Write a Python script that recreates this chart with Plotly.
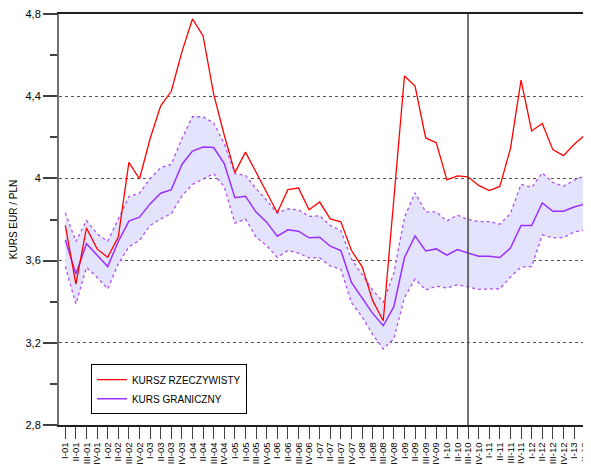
import plotly.graph_objects as go

quarters = []
for yy in range(1, 14):
    for q in ["I", "II", "III", "IV"]:
        quarters.append(f"{q}-{yy:02d}")
quarters = quarters[:50]  # I-01 ... II-13

kurs_rzeczywisty = [3.771, 3.486, 3.759, 3.657, 3.616, 3.714, 4.078, 3.997, 4.193, 4.353,
                    4.424, 4.616, 4.776, 4.693, 4.41, 4.21, 4.028, 4.128, 4.03, 3.93,
                    3.833, 3.945, 3.953, 3.847, 3.885, 3.803, 3.789, 3.649, 3.571, 3.405,
                    3.307, 3.90, 4.498, 4.449, 4.197, 4.174, 3.993, 4.012, 4.008, 3.966,
                    3.941, 3.961, 4.145, 4.478, 4.231, 4.267, 4.140, 4.111, 4.165, 4.21]

kurs_graniczny = [3.701, 3.535, 3.682, 3.624, 3.571, 3.693, 3.792, 3.811, 3.876, 3.928,
                  3.945, 4.068, 4.133, 4.153, 4.150, 4.072, 3.906, 3.913, 3.836, 3.787,
                  3.719, 3.750, 3.743, 3.711, 3.714, 3.670, 3.649, 3.494, 3.418, 3.343,
                  3.283, 3.376, 3.615, 3.720, 3.647, 3.657, 3.626, 3.654, 3.637, 3.621,
                  3.621, 3.615, 3.661, 3.771, 3.771, 3.881, 3.840, 3.840, 3.861, 3.875]

granica_gorna = [3.833, 3.693, 3.795, 3.730, 3.694, 3.803, 3.912, 3.928, 3.998, 4.052,
                 4.068, 4.193, 4.300, 4.300, 4.270, 4.169, 4.023, 4.015, 3.950, 3.893,
                 3.831, 3.852, 3.847, 3.815, 3.818, 3.771, 3.746, 3.608, 3.535, 3.457,
                 3.397, 3.54, 3.81, 3.930, 3.837, 3.837, 3.793, 3.821, 3.800, 3.790,
                 3.790, 3.777, 3.829, 3.971, 3.956, 4.027, 3.980, 3.962, 3.991, 4.012]

granica_dolna = [3.572, 3.389, 3.567, 3.519, 3.462, 3.584, 3.668, 3.698, 3.771, 3.803,
                 3.828, 3.915, 3.971, 3.998, 4.023, 3.958, 3.782, 3.803, 3.714, 3.673,
                 3.616, 3.649, 3.636, 3.613, 3.613, 3.574, 3.558, 3.395, 3.327, 3.240,
                 3.170, 3.22, 3.42, 3.510, 3.457, 3.476, 3.466, 3.483, 3.471, 3.460,
                 3.462, 3.463, 3.520, 3.569, 3.571, 3.725, 3.711, 3.712, 3.739, 3.749]

y_ticks = [2.8, 3.2, 3.6, 4.0, 4.4, 4.8]
y_minor_ticks = [3.0, 3.4, 3.8, 4.2, 4.6]
marker_quarter = "III-10"

band_line = "#B050F0"
fig = go.Figure()
fig.add_trace(go.Scatter(x=quarters, y=granica_dolna, mode="lines",
                         line=dict(color=band_line, width=1.3, dash="dot"),
                         showlegend=False, hoverinfo="skip"))
fig.add_trace(go.Scatter(x=quarters, y=granica_gorna, mode="lines", fill="tonexty",
                         fillcolor="#E3E3FD",
                         line=dict(color=band_line, width=1.3, dash="dot"),
                         showlegend=False, hoverinfo="skip"))
fig.add_trace(go.Scatter(x=quarters, y=kurs_graniczny, mode="lines", name="KURS GRANICZNY",
                         line=dict(color="#9A30FF", width=1.5), legendrank=2))
fig.add_trace(go.Scatter(x=quarters, y=kurs_rzeczywisty, mode="lines", name="KURSZ RZECZYWISTY",
                         line=dict(color="#FF0000", width=1.3), legendrank=1))

fig.add_shape(type="line", xref="x", yref="paper", x0=quarters.index(marker_quarter),
              x1=quarters.index(marker_quarter), y0=0, y1=1,
              line=dict(color="#444444", width=1.5))

font = "Liberation Sans, Arial, sans-serif"
fig.update_layout(
    width=583, height=468,
    margin=dict(l=51, r=0, t=6, b=51),
    paper_bgcolor="white", plot_bgcolor="white",
    separators=",.",
    font=dict(family=font, size=11, color="#000000"),
    showlegend=True,
    legend=dict(x=0.06, y=0.148, xanchor="left", yanchor="top", traceorder="normal",
                bgcolor="white", bordercolor="#000000", borderwidth=1,
                font=dict(size=10, family=font), tracegroupgap=0),
    xaxis=dict(type="category", range=[-0.594, 49.6], tickangle=-90,
               tickmode="array", tickvals=quarters, ticktext=quarters,
               ticks="outside", ticklen=12, tickcolor="#404040", tickwidth=1,
               showline=True, linecolor="#202020", linewidth=1.5, mirror=True,
               showgrid=False, zeroline=False, tickfont=dict(size=9.5),
               automargin=False),
    yaxis=dict(range=[2.79999, 4.80001], tickvals=y_ticks, ticklabeloverflow="allow",
               ticks="outside", ticklen=14, tickcolor="#404040", tickwidth=1.5,
               minor=dict(tickvals=y_minor_ticks, ticks="outside", ticklen=7,
                          tickcolor="#404040", tickwidth=1.5, showgrid=False),
               showline=True, linecolor="#707070", linewidth=2,
               showgrid=True, gridcolor="#555555", gridwidth=1, griddash="dot",
               zeroline=False, tickfont=dict(size=11), automargin=False,
               title=dict(text="KURS EUR / PLN", font=dict(size=10), standoff=7)),
)

fig.write_html("out.html")
